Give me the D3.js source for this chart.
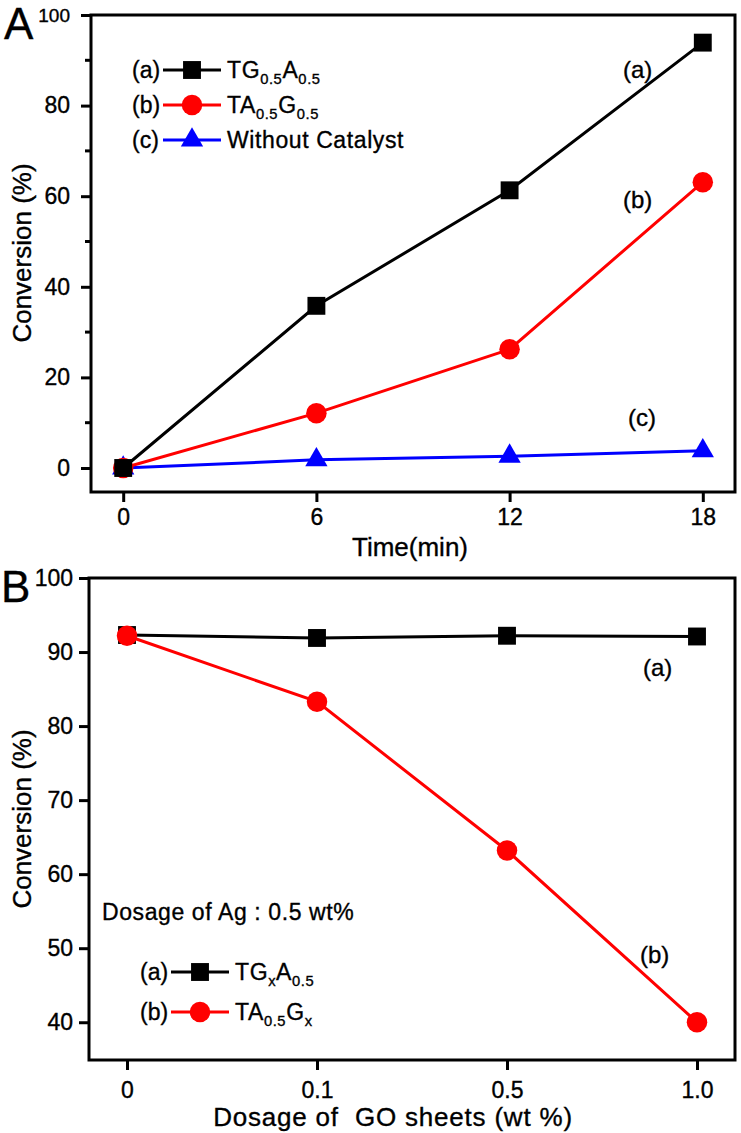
<!DOCTYPE html>
<html>
<head>
<meta charset="utf-8">
<script src="https://cdn.jsdelivr.net/npm/d3@7"></script>
<style>
  html, body { margin: 0; padding: 0; background: #fff; }
  svg text { font-family: "Liberation Sans", Arial, sans-serif; fill: #000; stroke: #000; stroke-width: 0.35px; }
</style>
</head>
<body>
<svg id="chart" width="741" height="1133"></svg>
<script>
// ---------- Data: panel A ----------
const timeMin = [0, 6, 12, 18];
const convTG05A05 = [0, 35.8, 61.3, 93.9];
const convTA05G05 = [0, 12.1, 26.2, 63.1];
const convWithout = [0, 1.8, 2.6, 3.8];
const timeTicks = [0, 6, 12, 18];
const convTicksA = [0, 20, 40, 60, 80, 100];
const convMinorA = [10, 30, 50, 70, 90];

// ---------- Data: panel B ----------
const goDosage = ["0", "0.1", "0.5", "1.0"];
const convTGxA05 = [92.3, 91.9, 92.2, 92.1];
const convTA05Gx = [92.2, 83.3, 63.2, 40.0];
const convTicksB = [40, 50, 60, 70, 80, 90, 100];

const svg = d3.select("#chart");
const RED = "#ff0000", BLUE = "#0000ff", BLACK = "#000";

function symbolPath(type) {
  if (type === "square") return d3.symbol().type(d3.symbolSquare).size(320)();
  if (type === "circle") return d3.symbol().type(d3.symbolCircle).size(330)();
  return d3.symbol().type(d3.symbolTriangle).size(215)();
}

function drawSeries(g, xs, ys, x, y, color, shape) {
  const pts = xs.map((d, i) => [x(d), y(ys[i])]);
  g.append("path")
    .attr("d", d3.line()(pts))
    .attr("fill", "none").attr("stroke", color).attr("stroke-width", 3);
  g.selectAll(null).data(pts).enter().append("path")
    .attr("d", symbolPath(shape))
    .attr("transform", d => `translate(${d[0]},${d[1]})`)
    .attr("fill", color);
}

function subText(g, xPos, yPos, parts, size, ls) {
  const t = g.append("text").attr("x", xPos).attr("y", yPos)
    .attr("font-size", size).attr("letter-spacing", ls || 0);
  parts.forEach(p => {
    if (p.sub) {
      t.append("tspan").text(p.t).attr("font-size", size * 0.64).attr("dy", 6);
    } else {
      t.append("tspan").text(p.t).attr("dy", p.after ? -6 : 0);
    }
  });
  return t;
}

function legendRow(g, yC, tag, color, shape, parts, x0, size) {
  g.append("text").attr("x", x0).attr("y", yC + 8).attr("font-size", size).text(tag);
  g.append("line").attr("x1", x0 + 31).attr("x2", x0 + 89).attr("y1", yC).attr("y2", yC)
    .attr("stroke", color).attr("stroke-width", 3);
  g.append("path").attr("d", symbolPath(shape))
    .attr("transform", `translate(${x0 + 60},${yC})`).attr("fill", color);
  subText(g, x0 + 95, yC + 8, parts, size, 0.6);
}

// ================= Panel A =================
{
  const L = 91, R = 735, T = 15, B = 492;
  const x = d3.scaleLinear().domain([-1, 19]).range([L, R]);
  const y = d3.scaleLinear().domain([-5.3, 100]).range([B, T]);
  const g = svg.append("g");

  const yAxis = d3.axisLeft(y).tickValues(convTicksA).tickSize(10).tickSizeOuter(0).tickPadding(11);
  const ya = g.append("g").attr("transform", `translate(${L},0)`).call(yAxis);
  ya.select(".domain").remove();
  ya.selectAll(".tick line").attr("stroke-width", 3);
  ya.selectAll(".tick text").attr("font-size", d => d === 100 ? 19 : 23).attr("font-family", "Liberation Sans, Arial, sans-serif");
  g.selectAll(null).data(convMinorA).enter().append("line")
    .attr("x1", L - 6).attr("x2", L).attr("y1", d => y(d)).attr("y2", d => y(d))
    .attr("stroke", BLACK).attr("stroke-width", 3);

  const xAxis = d3.axisBottom(x).tickValues(timeTicks).tickSize(10).tickSizeOuter(0).tickPadding(7);
  const xa = g.append("g").attr("transform", `translate(0,${B})`).call(xAxis);
  xa.select(".domain").remove();
  xa.selectAll(".tick line").attr("stroke-width", 3);
  xa.selectAll(".tick text").attr("font-size", 23).attr("font-family", "Liberation Sans, Arial, sans-serif");

  g.append("rect").attr("x", L).attr("y", T).attr("width", R - L).attr("height", B - T)
    .attr("fill", "none").attr("stroke", BLACK).attr("stroke-width", 3);

  drawSeries(g, timeMin, convWithout, x, y, BLUE, "triangle");
  drawSeries(g, timeMin, convTA05G05, x, y, RED, "circle");
  drawSeries(g, timeMin, convTG05A05, x, y, BLACK, "square");

  g.append("text").attr("x", 623).attr("y", 78).attr("font-size", 24).text("(a)");
  g.append("text").attr("x", 623).attr("y", 208).attr("font-size", 24).text("(b)");
  g.append("text").attr("x", 628).attr("y", 426).attr("font-size", 24).text("(c)");

  legendRow(g, 70, "(a)", BLACK, "square", [{t: "TG"}, {t: "0.5", sub: true}, {t: "A", after: true}, {t: "0.5", sub: true}], 132, 23);
  legendRow(g, 105, "(b)", RED, "circle", [{t: "TA"}, {t: "0.5", sub: true}, {t: "G", after: true}, {t: "0.5", sub: true}], 132, 23);
  legendRow(g, 140, "(c)", BLUE, "triangle", [{t: "Without Catalyst"}], 132, 23);

  g.append("text").attr("x", 410).attr("y", 556).attr("text-anchor", "middle")
    .attr("font-size", 26).text("Time(min)");
  g.append("text").attr("transform", "translate(31,253) rotate(-90)").attr("text-anchor", "middle")
    .attr("font-size", 26).text("Conversion (%)");
  g.append("text").attr("x", 4).attr("y", 39).attr("font-size", 44).text("A");
}

// ================= Panel B =================
{
  const L = 89, R = 735, T = 578, B = 1060;
  const xi = d3.scaleLinear().domain([-0.2, 3.2]).range([L, R]);
  const idx = goDosage.map((d, i) => i);
  const y = d3.scaleLinear().domain([34.9, 100]).range([B, T]);
  const g = svg.append("g");

  const yAxis = d3.axisLeft(y).tickValues(convTicksB).tickSize(10).tickSizeOuter(0).tickPadding(6);
  const ya = g.append("g").attr("transform", `translate(${L},0)`).call(yAxis);
  ya.select(".domain").remove();
  ya.selectAll(".tick line").attr("stroke-width", 3);
  ya.selectAll(".tick text").attr("font-size", 23).attr("font-family", "Liberation Sans, Arial, sans-serif");

  const xAxis = d3.axisBottom(xi).tickValues(idx).tickFormat(i => goDosage[i])
    .tickSize(10).tickSizeOuter(0).tickPadding(12);
  const xa = g.append("g").attr("transform", `translate(0,${B})`).call(xAxis);
  xa.select(".domain").remove();
  xa.selectAll(".tick line").attr("stroke-width", 3);
  xa.selectAll(".tick text").attr("font-size", 23).attr("font-family", "Liberation Sans, Arial, sans-serif");

  g.append("rect").attr("x", L).attr("y", T).attr("width", R - L).attr("height", B - T)
    .attr("fill", "none").attr("stroke", BLACK).attr("stroke-width", 3);

  drawSeries(g, idx, convTGxA05, xi, y, BLACK, "square");
  drawSeries(g, idx, convTA05Gx, xi, y, RED, "circle");

  g.append("text").attr("x", 643).attr("y", 676).attr("font-size", 24).text("(a)");
  g.append("text").attr("x", 640).attr("y", 963).attr("font-size", 24).text("(b)");

  g.append("text").attr("x", 102).attr("y", 920).attr("font-size", 23).attr("letter-spacing", 0.6)
    .text("Dosage of Ag : 0.5 wt%");

  legendRow(g, 972, "(a)", BLACK, "square", [{t: "TG"}, {t: "x", sub: true}, {t: "A", after: true}, {t: "0.5", sub: true}], 140, 23);
  legendRow(g, 1012, "(b)", RED, "circle", [{t: "TA"}, {t: "0.5", sub: true}, {t: "G", after: true}, {t: "x", sub: true}], 140, 23);

  g.append("text").attr("x", 393).attr("y", 1126).attr("text-anchor", "middle")
    .attr("font-size", 26).attr("letter-spacing", 0.8).style("white-space", "pre")
    .text("Dosage of  GO sheets (wt %)");
  g.append("text").attr("transform", "translate(31,819) rotate(-90)").attr("text-anchor", "middle")
    .attr("font-size", 26).text("Conversion (%)");
  g.append("text").attr("x", 1).attr("y", 602).attr("font-size", 44).text("B");
}
</script>
</body>
</html>
